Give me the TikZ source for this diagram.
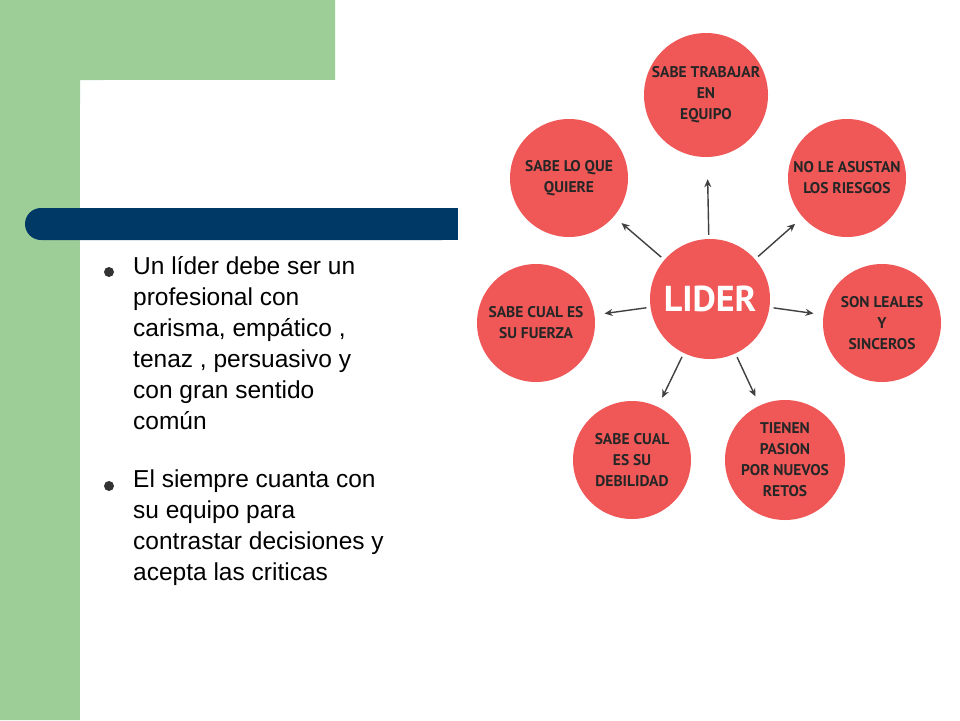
\documentclass[tikz,border=0pt]{standalone}
\usepackage{fontspec}
\usetikzlibrary{arrows.meta}
\setmainfont{Liberation Sans}
\newfontfamily\circfont{PT Sans}
\definecolor{cr}{RGB}{240,88,88}
\definecolor{gr}{RGB}{157,206,152}
\definecolor{bl}{RGB}{0,56,102}
\begin{document}
\begin{tikzpicture}[x=1pt,y=-1pt,
  circ/.style={circle,fill=cr,draw=none,minimum size=118pt,inner sep=0pt,align=center,font=\circfont\bfseries\fontsize{15.5}{21}\selectfont,text=black!85},
  arr/.style={-{Stealth[length=8pt,width=7pt]},line width=1.4pt,draw=black!75,shorten >=10pt,shorten <=4pt},
  txt/.style={anchor=north west,align=left,font=\fontsize{24.5}{31}\selectfont,inner sep=0pt}]
\useasboundingbox (0,0) rectangle (960,720);
\fill[white] (0,0) rectangle (960,720);
\fill[gr] (0,0) rectangle (335,80) (0,0) rectangle (80,720);
\fill[white,rounded corners=30pt] (80,80) rectangle (1000,760);
\fill[bl,rounded corners=16pt] (25,208) rectangle (458,240);
\fill[bl] (60,208) rectangle (458,240);
\node[circ,minimum size=120pt] (c) at (710,299) {\fontsize{36}{38}\selectfont\color{white}LIDER};
\node[circ,minimum size=124pt] (t) at (706,95) {SABE TRABAJAR\\EN\\EQUIPO};
\node[circ] (tl) at (569,178) {SABE LO QUE\\QUIERE};
\node[circ] (tr) at (847,178) {NO LE ASUSTAN\\LOS RIESGOS};
\node[circ] (l) at (536,323) {SABE CUAL ES\\SU FUERZA};
\node[circ] (r) at (882,323) {SON LEALES\\Y\\SINCEROS};
\node[circ] (bl) at (632,460) {SABE CUAL\\ES SU\\DEBILIDAD};
\node[circ,minimum size=120pt] (br) at (785,460) {TIENEN\\PASION\\POR NUEVOS\\RETOS};
\draw[arr,shorten >=22pt] (c) -- (t);
\foreach \n in {tl,tr,l,r,bl,br} \draw[arr] (c) -- (\n);
\node[circle,fill=black!80,inner sep=0pt,minimum size=10pt] (b1) at (109,272) {};
\node[circle,fill=black!80,inner sep=0pt,minimum size=10pt] (b2) at (109,486) {};
\node[txt] (p1) at (133,256) {Un líder debe ser un\\profesional con\\carisma, empático ,\\tenaz , persuasivo y\\con gran sentido\\común};
\node[txt] (p2) at (133,470) {El siempre cuanta con\\su equipo para\\contrastar decisiones y\\acepta las criticas};
\end{tikzpicture}
\end{document}
